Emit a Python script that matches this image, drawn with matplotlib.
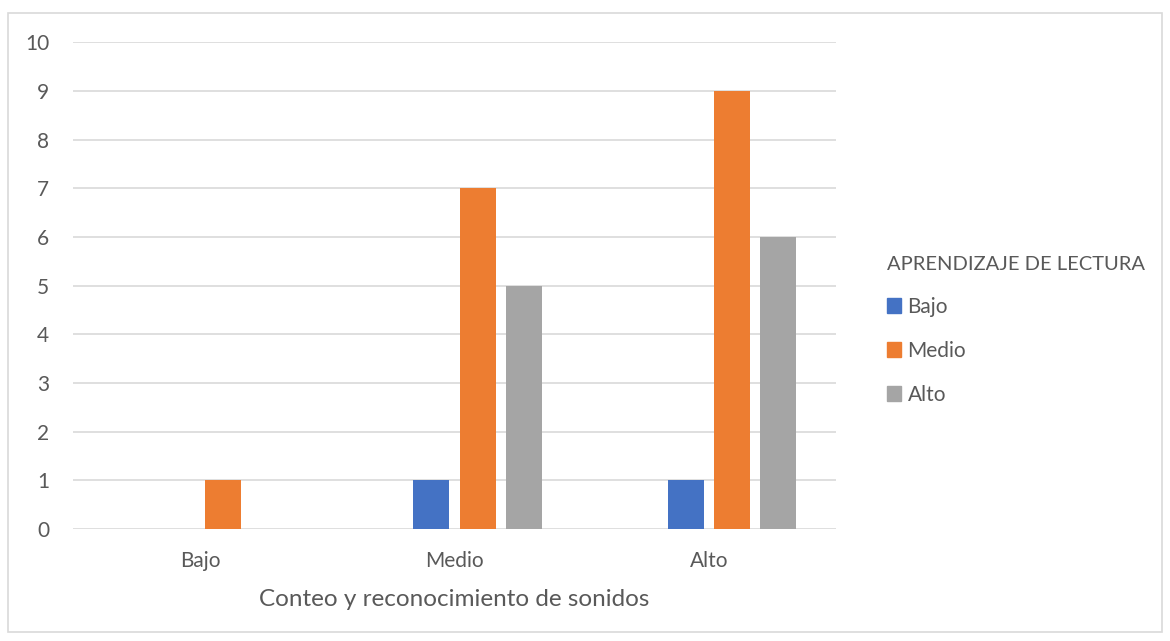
import matplotlib.pyplot as plt
import numpy as np
from matplotlib.patches import Patch, Rectangle

plt.rcParams["font.family"] = ["Lato", "DejaVu Sans"]

categories = ["Bajo", "Medio", "Alto"]
series_names = ["Bajo", "Medio", "Alto"]
bajo = [0, 1, 1]
medio = [1, 7, 9]
alto = [0, 5, 6]
colors = ["#4472C4", "#ED7D31", "#A5A5A5"]
grey_text = "#595959"

fig = plt.figure(figsize=(11.7, 6.41), dpi=100)
ax = fig.add_axes([73 / 1170, (641 - 529) / 641, (836 - 73) / 1170, (529 - 42.3) / 641])

# outer chart border
fig.patches.append(Rectangle((8 / 1170, 9 / 641), 1154 / 1170, 619 / 641,
                             transform=fig.transFigure, fill=False,
                             edgecolor="#d9d9d9", linewidth=1.2))

x = np.arange(len(categories))
slot = 46 / 254.3
width = 36 / 254.3
# four slots per group, first one is empty
offsets = [-0.5 * slot, 0.5 * slot, 1.5 * slot]
for vals, off, c, name in zip([bajo, medio, alto], offsets, colors, series_names):
    ax.bar(x + off, vals, width, color=c, label=name, zorder=3)

ax.set_xlim(-0.5, 2.5)
ax.set_ylim(0, 10)
ax.set_yticks(range(0, 11))
ax.set_xticks(x)
ax.set_xticklabels(categories)
ax.grid(axis="y", color="#d9d9d9", linewidth=1.2, zorder=0)
for s in ax.spines.values():
    s.set_visible(False)
ax.tick_params(length=0, labelsize=15, colors=grey_text)
ax.tick_params(axis="x", pad=16)
ax.tick_params(axis="y", pad=17)
ax.set_xlabel("Conteo y reconocimiento de sonidos", fontsize=17.5, color=grey_text, labelpad=13)

handles = [Patch(color=c) for c in colors]
leg = fig.legend(handles, series_names, title="APRENDIZAJE DE LECTURA",
                 loc="upper left", bbox_to_anchor=(868 / 1170, 1 - 237 / 641),
                 frameon=False, fontsize=15, title_fontsize=14.5,
                 handlelength=0.7, handleheight=0.7, handletextpad=0.3,
                 labelspacing=1.15, alignment="left")
for t in leg.get_texts():
    t.set_color(grey_text)
leg.get_title().set_color(grey_text)

fig.savefig("out.png", dpi=100)
